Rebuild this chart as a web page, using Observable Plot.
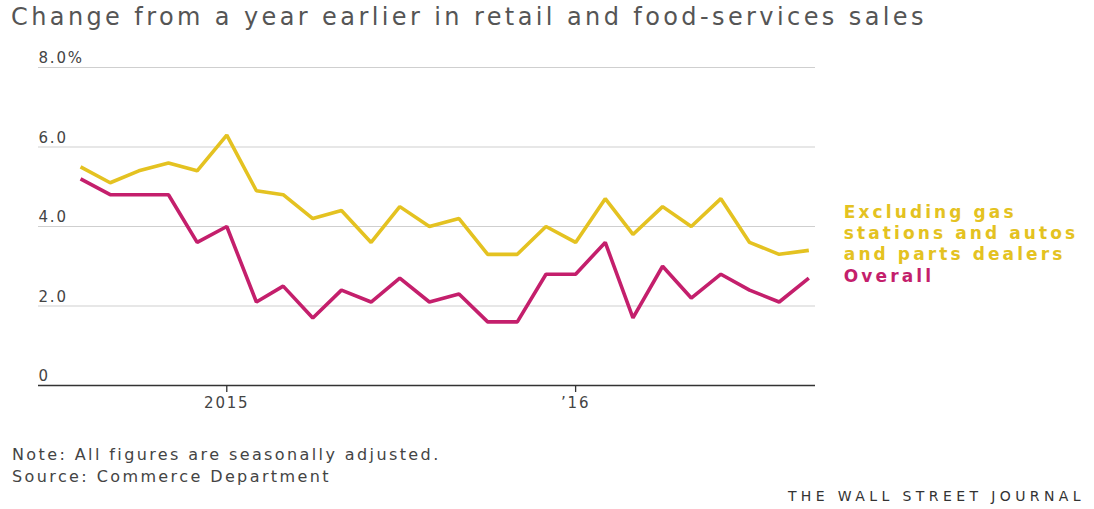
<!DOCTYPE html>
<html>
<head>
<meta charset="utf-8">
<script src="https://cdn.jsdelivr.net/npm/d3@7"></script>
<script src="https://cdn.jsdelivr.net/npm/@observablehq/plot@0.6"></script>
<style>
  html, body { margin: 0; padding: 0; background: #fff; }
  body { width: 1094px; height: 509px; position: relative; overflow: hidden; font-family: "DejaVu Sans", sans-serif; }
  #title { position: absolute; left: 11px; top: 3px; font-size: 24px; color: #555; white-space: nowrap; letter-spacing: 3.4px; }
  #chart { position: absolute; left: 0; top: 40px; }
  #note { position: absolute; left: 12px; top: 444px; font-size: 16px; color: #444; line-height: 22px; letter-spacing: 2.4px; white-space: nowrap; }
  #wsj { position: absolute; right: 9px; top: 488px; font-size: 14px; color: #333; letter-spacing: 4.4px; white-space: nowrap; }
  #chart svg text { letter-spacing: 1.8px; }
  #chart svg g.lbl text { letter-spacing: 3.1px; }
</style>
</head>
<body>
<div id="title">Change from a year earlier in retail and food-services sales</div>
<div id="chart"></div>
<div id="note">Note: All figures are seasonally adjusted.<br>Source: Commerce Department</div>
<div id="wsj">THE WALL STREET JOURNAL</div>
<script>
// Monthly observations, Aug 2014 – Sep 2016
const months = [
  "2014-08","2014-09","2014-10","2014-11","2014-12",
  "2015-01","2015-02","2015-03","2015-04","2015-05","2015-06","2015-07","2015-08","2015-09","2015-10","2015-11","2015-12",
  "2016-01","2016-02","2016-03","2016-04","2016-05","2016-06","2016-07","2016-08","2016-09"
];
const excludingGasAutos = [5.5,5.1,5.4,5.6,5.4, 6.3,4.9,4.8,4.2,4.4,3.6,4.5,4.0,4.2,3.3,3.3,4.0, 3.6,4.7,3.8,4.5,4.0,4.7,3.6,3.3,3.4];
const overall           = [5.2,4.8,4.8,4.8,3.6, 4.0,2.1,2.5,1.7,2.4,2.1,2.7,2.1,2.3,1.6,1.6,2.8, 2.8,3.6,1.7,3.0,2.2,2.8,2.4,2.1,2.7];
const yTicks = [0, 2, 4, 6, 8];
const yTickLabels = ["0", "2.0", "4.0", "6.0", "8.0%"];
const xTicks = ["2015-01-01", "2016-01-01"];
const xTickLabels = ["2015", "\u201916"];
const seriesNames = ["Excluding gas\nstations and autos\nand parts dealers", "Overall"];
const colors = ["#e4c221", "#c41f6c"];

const parse = d3.utcParse("%Y-%m");
const rows = [];
months.forEach((m, i) => {
  rows.push({date: parse(m), value: excludingGasAutos[i], series: seriesNames[0]});
  rows.push({date: parse(m), value: overall[i], series: seriesNames[1]});
});
const lastEx = rows.slice(-2, -1);
const lastOv = rows.slice(-1);

const chart = Plot.plot({
  width: 1094,
  height: 380,
  marginLeft: 38,
  marginRight: 279,
  marginTop: 27,
  marginBottom: 35,
  style: {fontFamily: "'DejaVu Sans', sans-serif", background: "transparent"},
  x: {type: "utc", domain: [new Date("2014-06-18"), new Date("2016-09-08")]},
  y: {domain: [0, 8]},
  color: {domain: seriesNames, range: colors},
  marks: [
    Plot.ruleY(yTicks.filter(d => d > 0), {stroke: "#cfcfcf", strokeWidth: 1}),
    Plot.axisY({ticks: yTicks, tickFormat: (d) => yTickLabels[yTicks.indexOf(d)], tickSize: 0, tickPadding: 0, textAnchor: "start", dy: -9, fontSize: 15, fill: "#444", label: null}),
    Plot.ruleY([0], {stroke: "#333", strokeWidth: 1.3}),
    Plot.axisX({ticks: xTicks.map(d => new Date(d)), tickFormat: (d) => xTickLabels[d.getUTCFullYear() - 2015], tickSize: 7, tickPadding: 5, fontSize: 15, fill: "#444", stroke: "#333", strokeWidth: 1.3, label: null}),
    Plot.line(rows, {x: "date", y: "value", z: "series", stroke: "series", strokeWidth: 3.6, strokeLinejoin: "miter", strokeLinecap: "butt"}),
    Plot.text(lastEx, {x: "date", y: "value", text: "series", fill: "series", dx: 35, dy: 10, textAnchor: "start", lineAnchor: "bottom", fontSize: 17, fontWeight: "bold", lineHeight: 1.24, className: "lbl"}),
    Plot.text(lastOv, {x: "date", y: "value", text: "series", fill: "series", dx: 35, dy: -2, textAnchor: "start", lineAnchor: "middle", fontSize: 17, fontWeight: "bold", className: "lbl"})
  ]
});
document.getElementById("chart").appendChild(chart);
</script>
</body>
</html>
